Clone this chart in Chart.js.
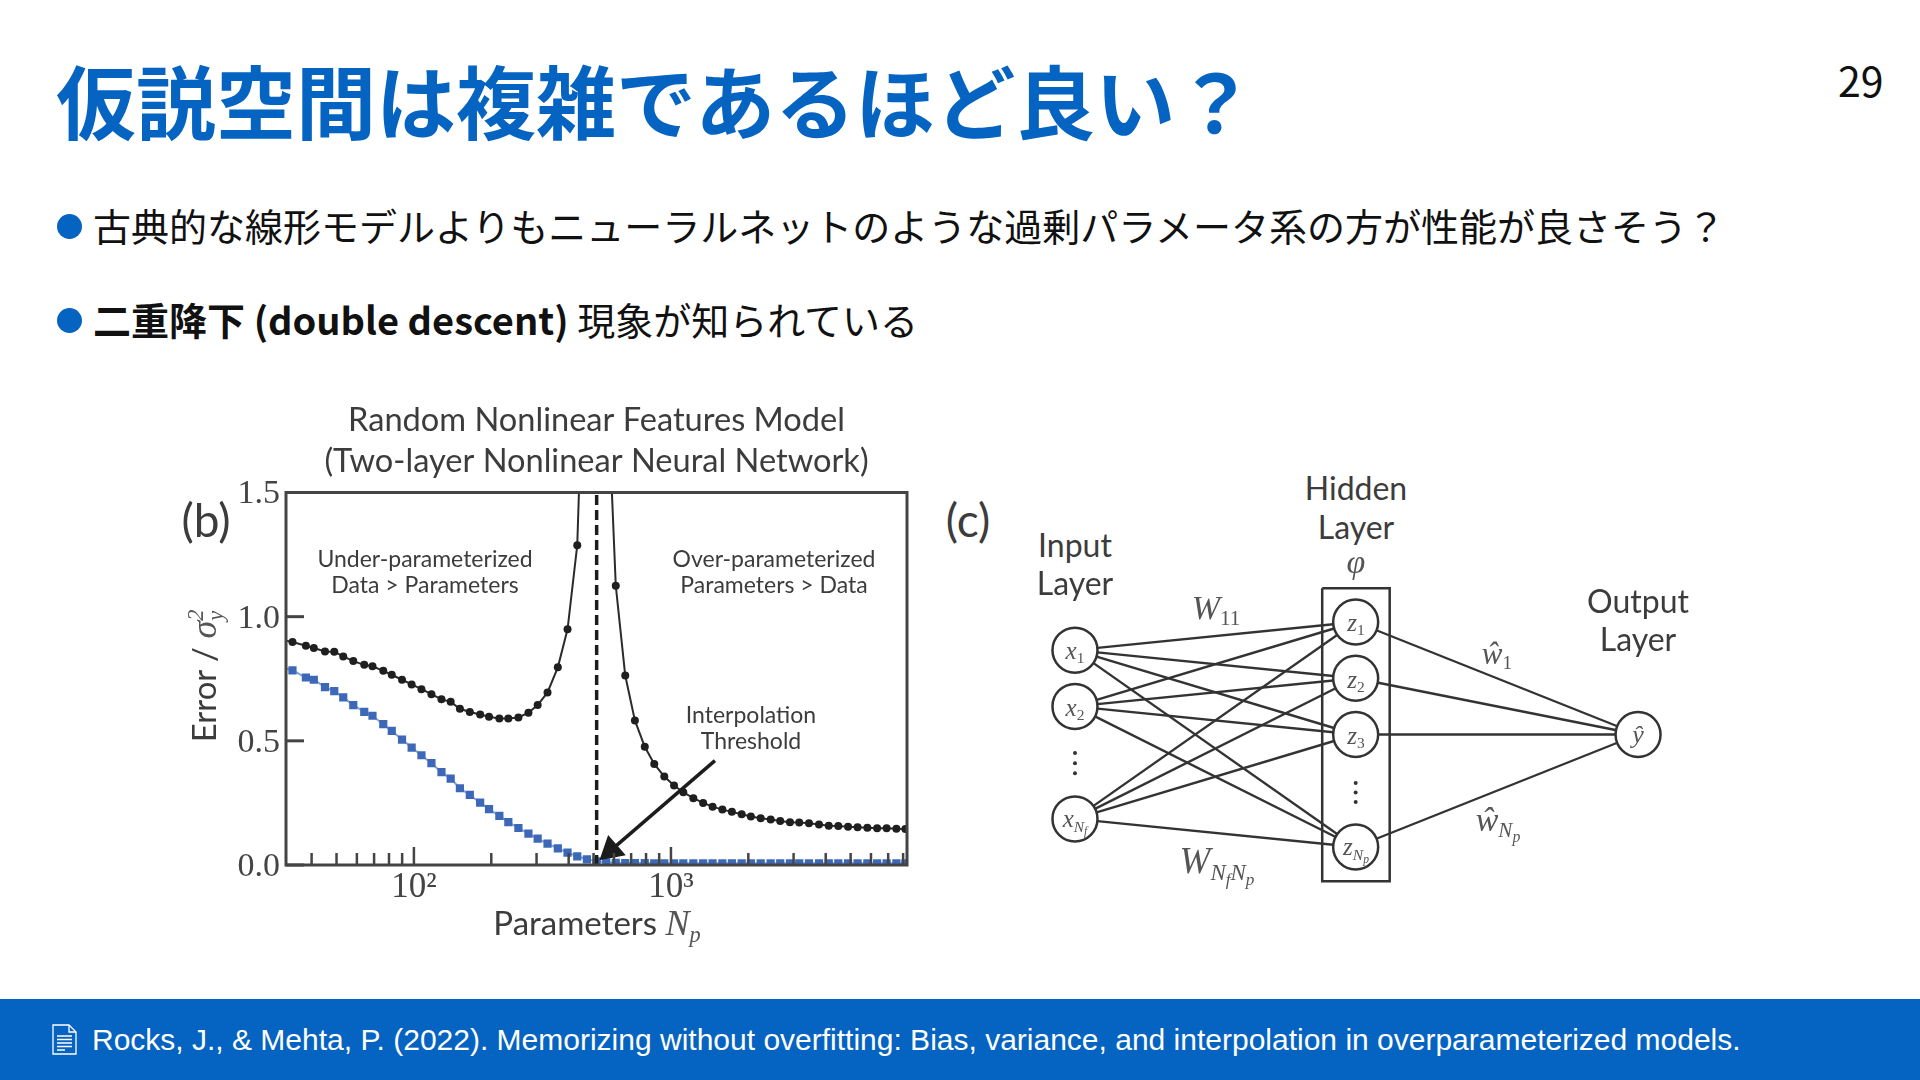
<!DOCTYPE html>
<html lang="ja">
<head>
<meta charset="utf-8">
<title>仮説空間は複雑であるほど良い？</title>
<script src="https://cdn.jsdelivr.net/npm/chart.js@4/dist/chart.umd.min.js"></script>
<style>
  html, body { margin: 0; padding: 0; background: #fff; }
  #slide { position: relative; width: 1920px; height: 1080px; overflow: hidden; font-family: "Noto Sans CJK JP", sans-serif; color: #111; }
  #slide canvas { position: absolute; }
  #curve-box { position: absolute; left: 160px; top: 395px; width: 780px; height: 600px; }
  #net-box { position: absolute; left: 1035px; top: 577px; width: 647px; height: 315px; }
  .abs { position: absolute; white-space: nowrap; line-height: 1; }
  .t { position: absolute; white-space: nowrap; line-height: 1; transform: translate(-50%, -50%); font-family: Lato, sans-serif; color: #3c3c3c; }
  .m { font-family: "Liberation Serif", serif; font-style: italic; color: #555; }
  .m sub, .t sub { font-size: 62%; vertical-align: -0.3em; line-height: 0; }
  .m sub sub { font-size: 75%; }
  .m sub.n { font-style: normal; }
  #title { left: 56px; top: 58px; font-size: 80px; font-weight: 700; color: #0563c1; }
  #page { left: 1838px; top: 59px; font-size: 41px; color: #111; }
  .dot { position: absolute; left: 57px; width: 25px; height: 25px; border-radius: 50%; background: #0563c1; }
  .bullet { left: 93px; font-size: 38px; }
  #footer { position: absolute; left: 0; top: 999px; width: 1920px; height: 81px; background: #0563c1; }
  #cite { left: 92px; top: 1025px; font-family: "Liberation Sans", sans-serif; font-size: 30px; color: #fff; }
  #doc { position: absolute; left: 52px; top: 1024px; }
</style>
</head>
<body>
<div id="slide">
  <div class="abs" id="title">仮説空間は複雑であるほど良い？</div>
  <div class="abs" id="page">29</div>

  <div class="dot" style="top:214px"></div>
  <div class="abs bullet" style="top:206px">古典的な線形モデルよりもニューラルネットのような過剰パラメータ系の方が性能が良さそう？</div>
  <div class="dot" style="top:308px"></div>
  <div class="abs bullet" style="top:300px"><b>二重降下 (double descent)</b> 現象が知られている</div>

  <div id="curve-box"><canvas id="curve"></canvas></div>
  <div id="net-box"><canvas id="net"></canvas></div>

  <!-- panel b text -->
  <div class="t" style="left:206px;top:520px;font-size:46px">(b)</div>
  <div class="t" style="left:204px;top:676px;font-size:33px;transform:translate(-50%,-50%) rotate(-90deg)">Error / <span class="m" style="font-size:36px">σ<sub style="margin-right:-10px">y</sub><sup style="font-size:62%;line-height:0">2</sup></span></div>
  <div class="t" style="left:597px;top:923px;font-size:33px">Parameters <span class="m" style="font-size:36px">N<sub>p</sub></span></div>
  <div class="t" style="left:425px;top:558px;font-size:23px">Under-parameterized</div>
  <div class="t" style="left:425px;top:584px;font-size:23px">Data &gt; Parameters</div>
  <div class="t" style="left:774px;top:558px;font-size:23px">Over-parameterized</div>
  <div class="t" style="left:774px;top:584px;font-size:23px">Parameters &gt; Data</div>
  <div class="t" style="left:751px;top:714px;font-size:23px">Interpolation</div>
  <div class="t" style="left:751px;top:740px;font-size:23px">Threshold</div>

  <!-- panel c text -->
  <div class="t" style="left:968px;top:520px;font-size:46px">(c)</div>
  <div class="t" style="left:1075px;top:545px;font-size:32px">Input</div>
  <div class="t" style="left:1075px;top:583px;font-size:32px">Layer</div>
  <div class="t" style="left:1356px;top:488px;font-size:32px">Hidden</div>
  <div class="t" style="left:1356px;top:527px;font-size:32px">Layer</div>
  <div class="t m" style="left:1356px;top:562px;font-size:34px">φ</div>
  <div class="t" style="left:1638px;top:601px;font-size:32px">Output</div>
  <div class="t" style="left:1638px;top:639px;font-size:32px">Layer</div>
  <div class="t m" style="left:1216px;top:608px;font-size:34px">W<sub class="n">11</sub></div>
  <div class="t m" style="left:1217px;top:861px;font-size:37px">W<sub>N<sub>f</sub>N<sub>p</sub></sub></div>
  <div class="t m" style="left:1497px;top:653px;font-size:31px">ŵ<sub class="n">1</sub></div>
  <div class="t m" style="left:1498px;top:820px;font-size:34px">ŵ<sub>N<sub>p</sub></sub></div>
  <div class="t m" style="left:1075px;top:650px;font-size:25px">x<sub class="n">1</sub></div>
  <div class="t m" style="left:1075px;top:707px;font-size:25px">x<sub class="n">2</sub></div>
  <div class="t m" style="left:1075px;top:819px;font-size:25px">x<sub>N<sub>f</sub></sub></div>
  <div class="t m" style="left:1356px;top:622px;font-size:25px">z<sub class="n">1</sub></div>
  <div class="t m" style="left:1356px;top:679px;font-size:25px">z<sub class="n">2</sub></div>
  <div class="t m" style="left:1356px;top:735px;font-size:25px">z<sub class="n">3</sub></div>
  <div class="t m" style="left:1356px;top:847px;font-size:25px">z<sub>N<sub>p</sub></sub></div>
  <div class="t m" style="left:1638px;top:735px;font-size:26px">ŷ</div>

  <div id="footer"></div>
  <svg id="doc" width="25" height="31" viewBox="0 0 25 31" fill="none" stroke="#fff" stroke-width="1.3">
    <path d="M1 1H17L24 8V30H1Z"/><path d="M17 1V8H24"/>
    <path d="M5 12H20M5 15.5H20M5 19H20M5 22.5H20M5 26H13"/>
  </svg>
  <div class="abs" id="cite">Rocks, J., &amp; Mehta, P. (2022). Memorizing without overfitting: Bias, variance, and interpolation in overparameterized models.</div>
</div>

<script>
// panel b values
const params = [30.9, 33.7, 38, 40.8, 45.1, 49, 53.1, 58.1, 64.1, 69, 76, 82, 89.9, 98, 107, 117, 128, 139, 151, 165, 181,
  196, 215, 233, 255, 279, 303, 331, 363, 396, 432, 471, 514, 560, 610, 664, 724, 791, 861, 942, 1028,
  1117, 1222, 1334, 1452, 1585, 1726, 1884, 2046, 2234, 2443, 2661, 2904, 3155, 3443, 3767, 4111, 4477, 4887, 5321, 5808,
  6339, 6902, 7534, 8166];
const testError = [0.905, 0.898, 0.883, 0.874, 0.860, 0.859, 0.840, 0.821, 0.806, 0.800, 0.782, 0.766, 0.746, 0.727, 0.708, 0.688, 0.667, 0.657, 0.629, 0.616, 0.606,
  0.597, 0.590, 0.590, 0.594, 0.613, 0.644, 0.695, 0.796, 0.949, 1.288, 2.5, 6, 2.05, 1.125, 0.763, 0.582, 0.476, 0.407, 0.356, 0.320,
  0.293, 0.269, 0.250, 0.235, 0.223, 0.214, 0.204, 0.195, 0.188, 0.183, 0.177, 0.172, 0.171, 0.168, 0.163, 0.158, 0.157, 0.154, 0.152, 0.150,
  0.148, 0.148, 0.146, 0.145];
const trainError = [0.795, 0.784, 0.755, 0.746, 0.716, 0.700, 0.675, 0.644, 0.617, 0.601, 0.567, 0.540, 0.505, 0.473, 0.442, 0.410, 0.374, 0.348, 0.309, 0.282, 0.251,
  0.225, 0.198, 0.173, 0.149, 0.126, 0.106, 0.086, 0.067, 0.050, 0.035, 0.023, 0.015, 0.011, 0.009, 0.008, 0.008, 0.008, 0.007, 0.007, 0.007,
  0.007, 0.007, 0.007, 0.007, 0.007, 0.007, 0.007, 0.007, 0.007, 0.007, 0.007, 0.007, 0.007, 0.007, 0.007, 0.007, 0.007, 0.007, 0.007, 0.007,
  0.007, 0.007, 0.007, 0.007];
const threshold = 514;
const arrowX = [1483, 585];
const arrowY = [0.42, 0.06];
const xRange = [31.8, 8285];
const yRange = [0, 1.5];
const xMajor = [100, 1000];
const xMinor = [40, 50, 60, 70, 80, 90, 200, 300, 400, 500, 600, 700, 800, 900, 2000, 3000, 4000, 5000, 6000, 7000, 8000];
const yMajor = [0, 0.5, 1, 1.5];

// panel c nodes: layer position and row number
const inputLayer = 0, hiddenLayer = 0.99, outputLayer = 1.986;
const inputRows = [0.5, 1.5, 3.5];
const hiddenRows = [0, 1, 2, 4];
const outputRows = [2];
const inputDots = [2.33, 2.51, 2.69];
const hiddenDots = [2.86, 3.03, 3.2];

const inkAxis = "#444";

function zip(xs, ys) {
  return xs.map((x, i) => ({ x: x, y: ys[i] }));
}

// the frame and the inward ticks go over the curves
const frameTicks = {
  id: "frameTicks",
  afterDatasetsDraw(chart) {
    const ctx = chart.ctx, a = chart.chartArea;
    const sx = chart.scales.x, sy = chart.scales.y;
    ctx.save();
    ctx.strokeStyle = inkAxis;
    ctx.lineWidth = 2.5;
    xMinor.forEach(v => line(ctx, sx.getPixelForValue(v), a.bottom, sx.getPixelForValue(v), a.bottom - 12));
    xMajor.forEach(v => line(ctx, sx.getPixelForValue(v), a.bottom, sx.getPixelForValue(v), a.bottom - 18));
    ctx.lineWidth = 3;
    yMajor.forEach(v => line(ctx, a.left, sy.getPixelForValue(v), a.left + 18, sy.getPixelForValue(v)));
    ctx.strokeRect(a.left, a.top, a.right - a.left, a.bottom - a.top);
    ctx.restore();
  }
};

function line(ctx, x1, y1, x2, y2) {
  ctx.beginPath();
  ctx.moveTo(x1, y1);
  ctx.lineTo(x2, y2);
  ctx.stroke();
}

new Chart(document.getElementById("curve"), {
  type: "line",
  plugins: [frameTicks],
  data: {
    datasets: [
      {
        label: "Arrow",
        data: zip(arrowX, arrowY),
        borderColor: "#1c1c1c",
        backgroundColor: "#1c1c1c",
        borderWidth: 3.5,
        pointStyle: "triangle",
        pointRadius: [0, 12],
        rotation: 229,
        order: 0
      },
      {
        label: "Threshold",
        data: [{ x: threshold, y: yRange[0] }, { x: threshold, y: yRange[1] }],
        borderColor: "#1c1c1c",
        borderWidth: 3.5,
        borderDash: [10, 5],
        pointRadius: 0,
        order: 1
      },
      {
        label: "Test error",
        data: zip(params, testError),
        borderColor: "#2b2b2b",
        backgroundColor: "#1f1f1f",
        borderWidth: 2,
        pointRadius: 4,
        pointBorderWidth: 0,
        order: 2
      },
      {
        label: "Train error",
        data: zip(params, trainError),
        borderColor: "#7fa3dc",
        backgroundColor: "#3d68b8",
        borderWidth: 2,
        pointStyle: "rect",
        pointRadius: 5.8,
        pointBorderWidth: 0,
        order: 3
      }
    ]
  },
  options: {
    responsive: true,
    maintainAspectRatio: false,
    animation: false,
    parsing: false,
    layout: { autoPadding: false, padding: { left: 0, right: 33, top: 0, bottom: 70 } },
    plugins: {
      legend: { display: false },
      tooltip: { enabled: false },
      title: {
        display: true,
        fullSize: false,
        text: ["Random Nonlinear Features Model", "(Two-layer Nonlinear Neural Network)"],
        color: "#3c3c3c",
        font: { family: "Lato", size: 32.6, weight: "normal", lineHeight: 1.25 },
        padding: { top: 5, bottom: 11 }
      }
    },
    scales: {
      x: {
        type: "logarithmic",
        min: xRange[0],
        max: xRange[1],
        grid: { display: false, drawTicks: false },
        border: { display: false },
        afterBuildTicks(scale) { scale.ticks = xMajor.map(v => ({ value: v })); },
        afterFit(scale) { scale.height = 60; },
        ticks: {
          autoSkip: false,
          maxRotation: 0,
          padding: 2,
          color: inkAxis,
          font: { family: "Liberation Serif", size: 35 },
          callback: v => (v === 100 ? "10²" : "10³")
        }
      },
      y: {
        min: yRange[0],
        max: yRange[1],
        grid: { display: false, drawTicks: false },
        border: { display: false },
        afterBuildTicks(scale) { scale.ticks = yMajor.map(v => ({ value: v })); },
        afterFit(scale) { scale.width = 126; },
        ticks: {
          padding: 6,
          labelOffset: 2,
          color: inkAxis,
          font: { family: "Liberation Serif", size: 34 },
          callback: v => v.toFixed(1)
        }
      }
    }
  }
});

// every input goes to every hidden node, every hidden node to the output
const edgeSets = [];
inputRows.forEach(r => hiddenRows.forEach(h => edgeSets.push([{ x: inputLayer, y: r }, { x: hiddenLayer, y: h }])));
hiddenRows.forEach(h => outputRows.forEach(o => edgeSets.push([{ x: hiddenLayer, y: h }, { x: outputLayer, y: o }])));

const boxX = [0.872, 1.11];
const boxY = [-0.6, 4.61];

const netDatasets = edgeSets.map(pts => ({
  data: pts,
  showLine: true,
  borderColor: "#333",
  borderWidth: 2.4,
  pointRadius: 0,
  order: 3
}));
netDatasets.push({
  label: "Hidden box",
  data: [
    { x: boxX[0], y: boxY[0] }, { x: boxX[1], y: boxY[0] }, { x: boxX[1], y: boxY[1] },
    { x: boxX[0], y: boxY[1] }, { x: boxX[0], y: boxY[0] }
  ],
  showLine: true,
  borderColor: "#333",
  borderWidth: 2.5,
  pointRadius: 0,
  order: 2
});
netDatasets.push({
  label: "Nodes",
  data: inputRows.map(r => ({ x: inputLayer, y: r }))
    .concat(hiddenRows.map(r => ({ x: hiddenLayer, y: r })))
    .concat(outputRows.map(r => ({ x: outputLayer, y: r }))),
  backgroundColor: "#fff",
  borderColor: "#333",
  pointBorderWidth: 2.5,
  pointRadius: 22.5,
  order: 1
});
netDatasets.push({
  label: "Dots",
  data: inputDots.map(r => ({ x: inputLayer, y: r })).concat(hiddenDots.map(r => ({ x: hiddenLayer, y: r }))),
  backgroundColor: "#333",
  pointRadius: 2,
  pointBorderWidth: 0,
  order: 0
});

new Chart(document.getElementById("net"), {
  type: "scatter",
  data: { datasets: netDatasets },
  options: {
    responsive: true,
    maintainAspectRatio: false,
    animation: false,
    layout: { autoPadding: false, padding: 0 },
    plugins: { legend: { display: false }, tooltip: { enabled: false } },
    scales: {
      x: { display: false, min: -0.141, max: 2.141 },
      y: { display: false, reverse: true, min: -0.8, max: 4.8 }
    }
  }
});
</script>
</body>
</html>
